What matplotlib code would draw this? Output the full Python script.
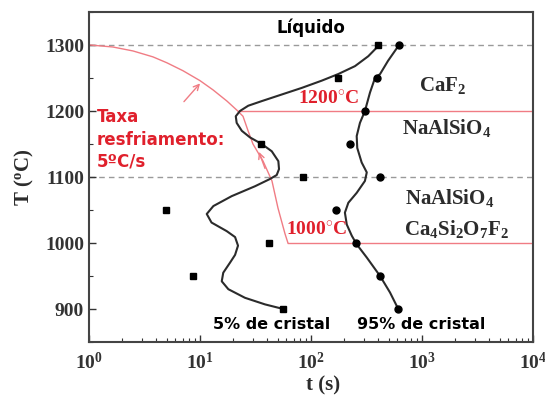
import matplotlib
matplotlib.use("Agg")
from matplotlib import pyplot as plt
import numpy as np

plt.rcParams['font.family'] = ['Liberation Serif', 'DejaVu Sans']
plt.rcParams['font.weight'] = 'bold'
plt.rcParams['mathtext.fontset'] = 'custom'
plt.rcParams['mathtext.rm'] = 'Liberation Serif:bold'
plt.rcParams['mathtext.bf'] = 'Liberation Serif:bold'
plt.rcParams['mathtext.it'] = 'Liberation Serif:bold'

# measured points (time in s, temperature in C)
temp_pts = [1300, 1250, 1200, 1150, 1100, 1050, 1000, 950, 900]
t5_pts = [402, 174, None, 35.5, 85, 4.9, 42, 8.7, 56]
t95_pts = [620, 392, 308, 224, 419, 168, 255, 419, 607]

# 5% transformation curve
t5_curve = [412, 328, 249, 176, 125, 82.5, 54.5, 36.0, 27.2, 22.9, 21.0, 21.4, 23.8,
            28.2, 36.0, 44.3, 50.8, 51.5, 49.1, 42.7, 31.3, 19.3, 13.2, 11.5, 12.7,
            17.4, 20.7, 22.0, 20.7, 18.6, 16.2, 15.7, 18.0, 25.4, 38.5, 56.3]
T5_curve = [1300, 1283, 1268, 1256, 1246, 1235, 1225, 1215, 1208, 1200, 1192, 1182,
            1170, 1160, 1150, 1139, 1124, 1112, 1103, 1097, 1086, 1071, 1056, 1044,
            1031, 1018, 1009, 996, 982, 970, 955, 942, 930, 917, 907, 900]

# 95% transformation curve
t95_curve = [621, 494, 419, 377, 340, 306, 276, 258, 261, 286, 318, 306, 258, 217,
             202, 210, 233, 258, 318, 419, 515, 611]
T95_curve = [1300, 1276, 1256, 1250, 1228, 1200, 1182, 1162, 1144, 1122, 1107, 1094,
             1076, 1061, 1046, 1028, 1011, 998, 978, 950, 925, 900]

# cooling path 5 C/s
t_cool = [1.02, 1.64, 2.49, 3.77, 5.04, 7.03, 10, 13.1, 17.5, 21.9, 24.4, 27.1, 30,
          37, 44.5, 50.4, 58.3, 62]
T_cool = [1300, 1297, 1291, 1282, 1273, 1261, 1246, 1232, 1215, 1200, 1192, 1170,
          1150, 1124, 1094, 1053, 1014, 1000]

red = '#f07c84'
red_txt = '#e0202c'
dark = '#2b2b2b'

fig = plt.figure(figsize=(5.45, 4.07), dpi=100)
ax = fig.add_axes([0.1633, 0.1597, 0.8147, 0.8108])
ax.set_xscale('log')
ax.set_xlim(1, 1e4)
ax.set_ylim(850, 1350)

for T in (1300, 1100):
    ax.axhline(T, color='#9a9a9a', lw=1.0, ls=(0, (4, 3)), zorder=1)

ax.plot(t_cool, T_cool, color=red, lw=1.0, zorder=2)
ax.plot([t_cool[-1], 1e4], [1000, 1000], color=red, lw=1.0, zorder=2)
ax.plot([t_cool[9], 1e4], [1200, 1200], color=red, lw=1.0, zorder=2)

ax.annotate('', xy=(10.4, 1245), xytext=(6.9, 1211),
            arrowprops=dict(arrowstyle='->', color=red, lw=1.0))
ax.annotate('', xy=(33.3, 1142), xytext=(39.3, 1109),
            arrowprops=dict(arrowstyle='->', color=red, lw=1.0))

ax.plot(t5_curve, T5_curve, color=dark, lw=1.5, zorder=3, solid_joinstyle='round')
ax.plot(t95_curve, T95_curve, color=dark, lw=1.5, zorder=3, solid_joinstyle='round')

t5 = [t for t in t5_pts if t is not None]
T5 = [T for t, T in zip(t5_pts, temp_pts) if t is not None]
ax.plot(t5, T5, 's', color='black', ms=5, zorder=4)
ax.plot(t95_pts, temp_pts, 'o', color='black', ms=5, zorder=4)

sans = ['DejaVu Sans']
ax.text(1.18, 1204, 'Taxa\nresfriamento:\n5ºC/s', color=red_txt, family=sans,
        fontsize=12, fontweight='bold', va='top', ha='left', linespacing=1.3)
ax.text(49, 1326, 'Líquido', family=sans, fontsize=12, fontweight='bold',
        ha='left', va='center', color='black')
ax.text(13.1, 877, '5% de cristal', family=sans, fontsize=11.5, fontweight='bold',
        ha='left', va='center', color='black')
ax.text(260, 877, '95% de cristal', family=sans, fontsize=11.5, fontweight='bold',
        ha='left', va='center', color='black')

ax.text(76, 1205, r'1200$^{\circ}$C', color=red_txt, fontsize=14, ha='left', va='bottom')
ax.text(60, 1006, r'1000$^{\circ}$C', color=red_txt, fontsize=14, ha='left', va='bottom')

ax.text(1546, 1238, r'CaF$_2$', color=dark, fontsize=15, ha='center', va='center')
ax.text(1680, 1174, r'NaAlSiO$_4$', color=dark, fontsize=15, ha='center', va='center')
ax.text(1787, 1068, r'NaAlSiO$_4$', color=dark, fontsize=15, ha='center', va='center')
ax.text(2024, 1021, r'Ca$_4$Si$_2$O$_7$F$_2$', color=dark, fontsize=15, ha='center', va='center')

ax.set_yticks([900, 1000, 1100, 1200, 1300])
ax.set_yticks(np.arange(850, 1351, 50), minor=True)
ax.tick_params(which='both', direction='in', colors='#333333', labelsize=14)
ax.tick_params(which='major', length=5, width=1.0)
ax.tick_params(which='minor', length=3, width=0.8)
ax.tick_params(axis='x', pad=7)
for lbl in ax.get_xticklabels() + ax.get_yticklabels():
    lbl.set_fontweight('bold')

for s in ax.spines.values():
    s.set_color('#444444')
    s.set_linewidth(1.5)

ax.set_xlabel('t (s)', fontsize=15, fontweight='bold', color=dark)
ax.set_ylabel(r'T ($^{\mathrm{o}}$C)', fontsize=15, fontweight='bold', color=dark)
ax.xaxis.set_label_coords(0.527, -0.1)
ax.yaxis.set_label_coords(-0.12, 0.5)

fig.savefig('out.png', dpi=100)
